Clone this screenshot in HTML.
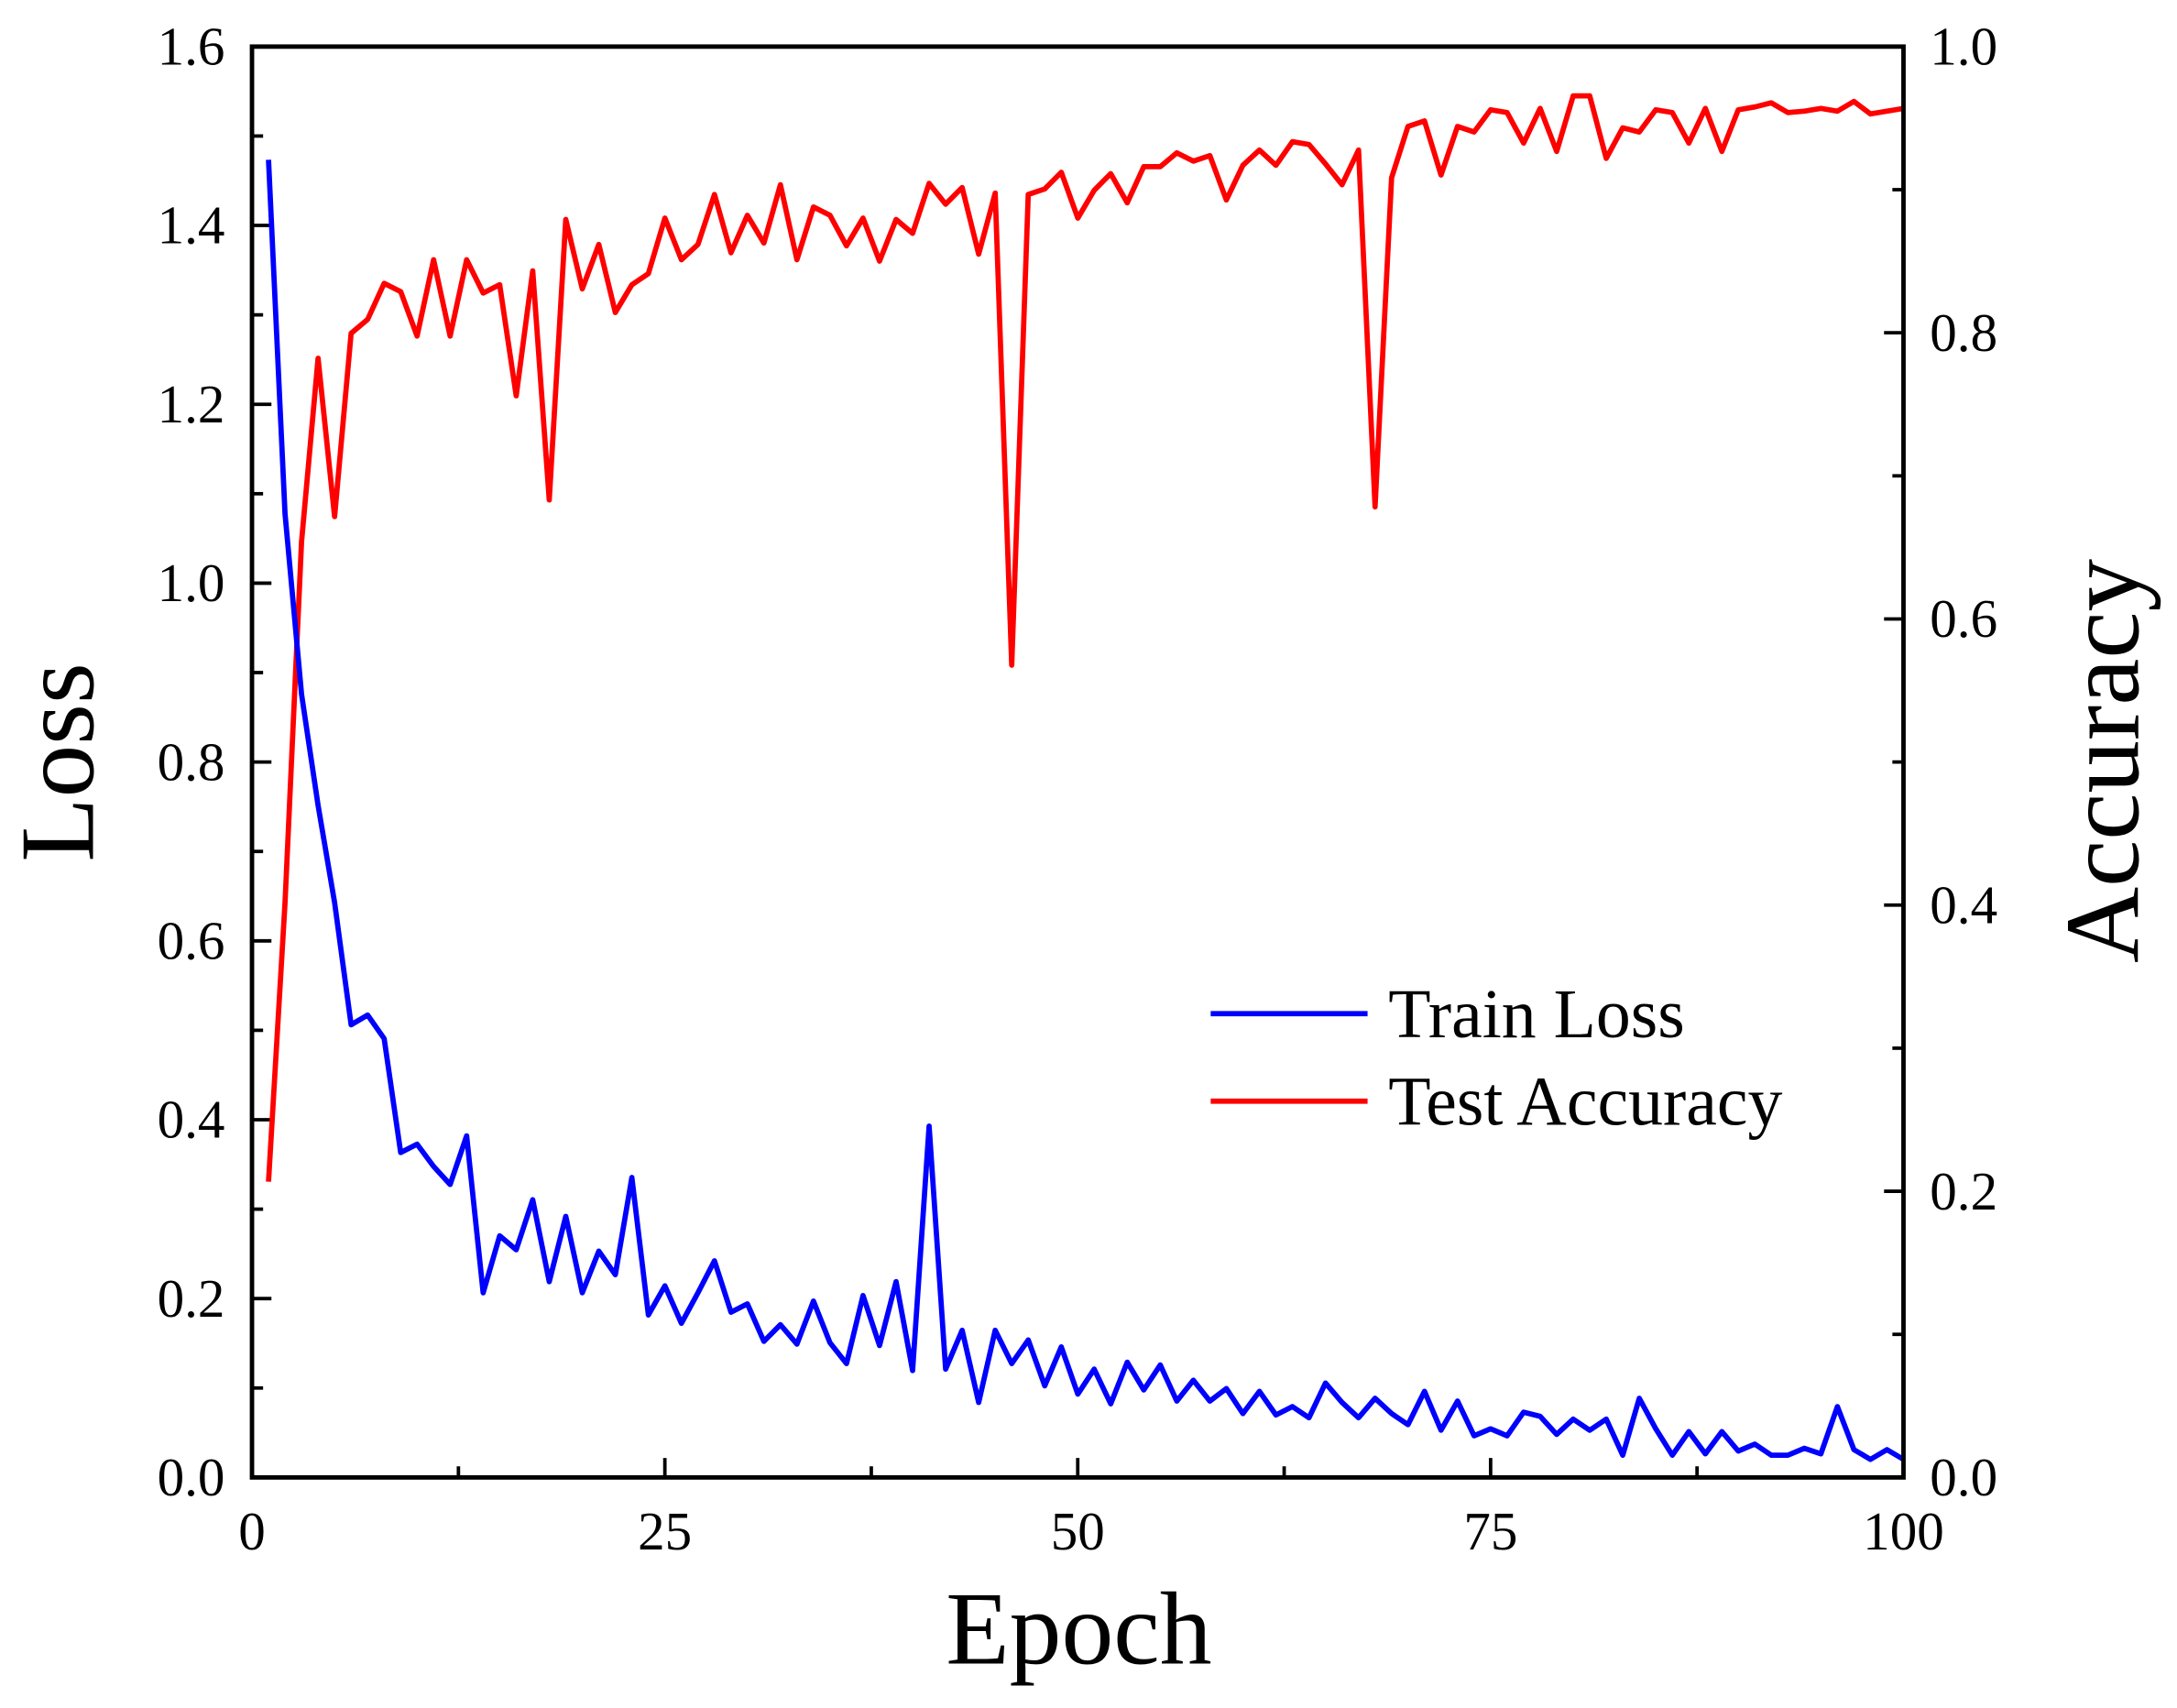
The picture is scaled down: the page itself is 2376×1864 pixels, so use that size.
<!DOCTYPE html>
<html><head><meta charset="utf-8"><style>html,body{margin:0;padding:0;background:#fff}svg{display:block}</style></head>
<body>
<svg id="s" width="2376" height="1864" viewBox="0 0 1568 1230" xmlns="http://www.w3.org/2000/svg" font-family="Liberation Serif, serif">
<rect x="0" y="0" width="1568" height="1230" fill="#fff"/>
<g id="ticks" stroke="#000" stroke-width="2.5"></g>
<polyline id="acc" fill="none" stroke="#ff0000" stroke-width="3.8" stroke-linejoin="round"/>
<polyline id="loss" fill="none" stroke="#0000ff" stroke-width="3.8" stroke-linejoin="round"/>
<rect x="181.5" y="33.5" width="1189.5" height="1030.5" fill="none" stroke="#000" stroke-width="3.2"/>
<g id="labels" font-size="39" fill="#000"></g>
<text x="777" y="1198" font-size="75" text-anchor="middle">Epoch</text>
<text transform="translate(67,549) rotate(-90)" font-size="76" text-anchor="middle">Loss</text>
<text transform="translate(1540,548) rotate(-90)" font-size="76" text-anchor="middle">Accuracy</text>
<line x1="872" y1="730" x2="985" y2="730" stroke="#0000ff" stroke-width="3.8"/>
<line x1="872" y1="793" x2="985" y2="793" stroke="#ff0000" stroke-width="3.8"/>
<text x="1000" y="747" font-size="50">Train Loss</text>
<text x="1000" y="810" font-size="50">Test Accuracy</text>
</svg>
<script>
var L=[115,370,500,580,650,738,731,748,830,824,840,853,818,931,890,900,864,923,876,931,901,918,848,947,926,953,931,908,945,939,966,954,968,937,967,982,933,969,923,987,811,986,958,1010,958,982,965,998,970,1004,986,1011,981,1001,983,1009,994,1009,1000,1018,1002,1019,1013,1021,996,1010,1021,1007,1018,1026,1002,1030,1009,1034,1029,1034,1017,1020,1033,1022,1030,1022,1048,1007,1029,1048,1031,1047,1031,1045,1040,1048,1048,1043,1047,1013,1044,1051,1044,1051];
var A=[851,650,390,258,372,240,230,204,210,242,187,242,187,211,205,285,195,360,158,208,176,225,205,197,157,187,176,140,182,155,175,133,187,149,155,177,157,188,158,168,132,147,135,183,139,479,140,136,124,157,137,125,146,120,120,110,116,112,144,119,108,119,102,104,118,133,108,365,128,91,87,126,91,95,79,81,103,78,109,69,69,114,92,95,79,81,103,78,109,79,77,74,81,80,78,80,73,82,80,78];
function X(e){return 181.5+e*11.895;}
function pts(a){return a.map(function(y,i){return X(i+1).toFixed(1)+","+y;}).join(" ");}
document.getElementById('loss').setAttribute('points',pts(L));
document.getElementById('acc').setAttribute('points',pts(A));
var t="",lb="";
var T=33.5,B=1064,Lx=181.5,R=1371;
for(var i=0;i<=16;i++){var y=B-i*(B-T)/16,len=i%2?8:14;t+='<line x1="'+Lx+'" y1="'+y+'" x2="'+(Lx+len)+'" y2="'+y+'"/>';
 if(i%2==0)lb+='<text x="162" y="'+(y+13)+'" text-anchor="end">'+(i/10).toFixed(1)+'</text>';}
for(var i=0;i<=10;i++){var y=B-i*(B-T)/10,len=i%2?8:14;t+='<line x1="'+R+'" y1="'+y+'" x2="'+(R-len)+'" y2="'+y+'"/>';
 if(i%2==0)lb+='<text x="1390" y="'+(y+13)+'" text-anchor="start">'+(i/10).toFixed(1)+'</text>';}
for(var i=0;i<=8;i++){var x=Lx+i*(R-Lx)/8,len=i%2?8:14;t+='<line x1="'+x+'" y1="'+B+'" x2="'+x+'" y2="'+(B-len)+'"/>';
 if(i%2==0)lb+='<text x="'+x+'" y="1116" text-anchor="middle">'+(i*12.5)+'</text>';}
document.getElementById('ticks').innerHTML=t;
document.getElementById('labels').innerHTML=lb;
</script>
</body></html>
